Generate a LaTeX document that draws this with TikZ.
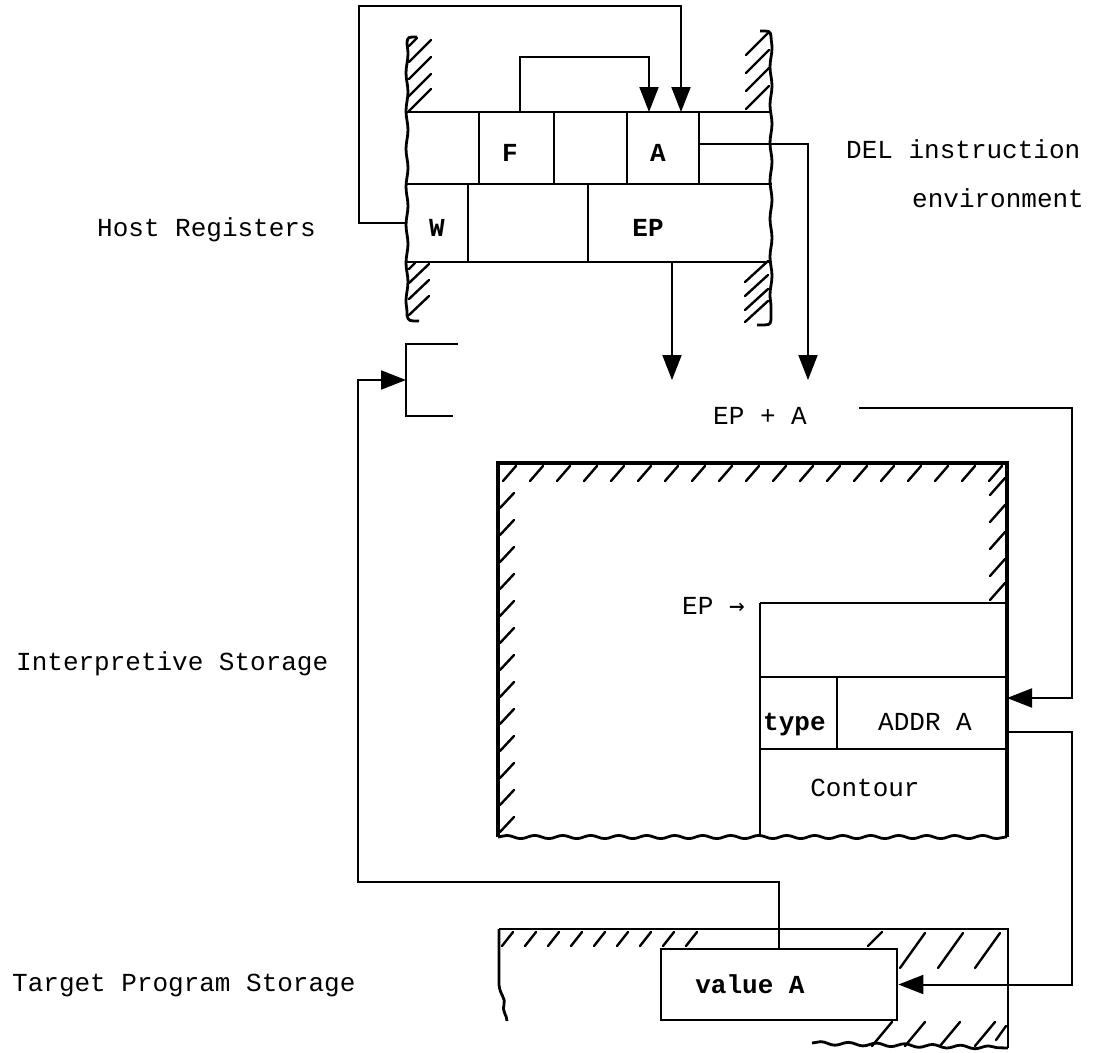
\documentclass[tikz,border=0pt]{standalone}
\usepackage{fontspec}
\setmainfont{Liberation Mono}
\newfontfamily\arrowfont{DejaVu Sans Mono}
\usetikzlibrary{arrows.meta,decorations.pathmorphing}
\begin{document}
\begin{tikzpicture}[x=1pt,y=-1pt,
  reg/.style={line width=2.8pt},
  bigline/.style={line width=3.4pt},
  conn/.style={line width=2pt},
  arrowhd/.style={-{Triangle[width=19pt,length=25pt]}},
  hatch/.style={line width=2.4pt,line cap=round},
  wavy/.style={decorate,decoration={snake,amplitude=1pt,segment length=38pt}},
  wavyb/.style={decorate,decoration={snake,amplitude=1.6pt,segment length=28pt}},
  cell/.style={draw=none,inner sep=0pt,outer sep=0pt},
  lbl/.style={inner sep=0pt,font=\fontsize{26}{30}\selectfont},
  blbl/.style={inner sep=0pt,font=\fontsize{26}{30}\selectfont\bfseries}]
\useasboundingbox (0,0) rectangle (1096,1053);

% ---------- host registers ----------
\node[cell,minimum width=72pt,minimum height=72pt] (r1a) at (443,148) {};
\node[cell,minimum width=75pt,minimum height=72pt] (Fc) at (516.5,148) {};
\node[cell,minimum width=73pt,minimum height=72pt] (r1c) at (590.5,148) {};
\node[cell,minimum width=72pt,minimum height=72pt] (Ac) at (663,148) {};
\node[cell,minimum width=73pt,minimum height=72pt] (r1e) at (735.5,148) {};
\node[cell,minimum width=61pt,minimum height=78pt] (Wc) at (437.5,223) {};
\node[cell,minimum width=120pt,minimum height=78pt] (r2b) at (528,223) {};
\node[cell,minimum width=184pt,minimum height=78pt] (EPc) at (680,223) {};

\draw[reg] (407,112) -- (772,112);
\draw[reg] (407,184) -- (772,184);
\draw[reg] (407,262) -- (772,262);
\foreach \x in {479,554,627,699} \draw[reg] (\x,112) -- (\x,184);
\foreach \x in {468,588} \draw[reg] (\x,184) -- (\x,262);

% walls
\draw[reg,wavy] (407,42) -- (407,316);
\draw[reg] (407,42) .. controls (408,37) .. (417,37);
\draw[reg] (407,316) .. controls (409,321) .. (419,321);
\draw[reg,wavy] (771,36) -- (771,320);
\draw[reg] (771,36) .. controls (770,31) .. (760,31);
\draw[reg] (771,320) .. controls (770,325) .. (757,325);
\foreach \y in {62,79,96,111} \draw[hatch] (409,\y) -- (431,\y-22);
\draw[hatch] (409,46) -- (417,38);
\foreach \y in {55,73,91,109} \draw[hatch] (746,\y) -- (769,\y-23);
\foreach \y in {283,299,315} \draw[hatch] (409,\y) -- (429,\y-19);
\draw[hatch] (409,269) -- (415,263);
\foreach \y in {282,296,310,322} \draw[hatch] (745,\y) -- (768,\y-21);

\node[blbl,anchor=base] (Ftxt) at (510,161) {F};
\node[blbl,anchor=base] (Atxt) at (658,161) {A};
\node[blbl,anchor=base] (Wtxt) at (437,236) {W};
\node[blbl,anchor=base] (EPtxt) at (648,236) {EP};

% register connectors
\coordinate (tipA) at (808,380);
\coordinate (tipEP) at (672,380);
\draw[conn,arrowhd] (Wc.west) -| (359,6) -| ([xshift=18pt]Ac.north);
\draw[conn,arrowhd] ([xshift=3.5pt]Fc.north) -- ++(0,-55) -| ([xshift=-14pt]Ac.north);
\draw[conn,arrowhd] ([yshift=4pt]Ac.east) -| (tipA);
\draw[conn,arrowhd] (EPc.south -| tipEP) -- (tipEP);

\node[lbl,anchor=base west] (host) at (97,236) {Host Registers};
\node[lbl,anchor=base west] (del1) at (846,158) {DEL instruction};
\node[lbl,anchor=base west] (del2) at (912,207) {environment};

% ---------- bracket ----------
\coordinate (brk) at (406,380);
\draw[reg] (458,344) -- (406,344) -- (406,416) -- (453,416);

\node[lbl,anchor=base west] (epa) at (713,424) {EP + A};
\coordinate (epaout) at (859,408);

% ---------- interpretive storage ----------
\draw[bigline] (498,837) -- (498,463) -- (1007,463) -- (1007,837);
\draw[reg,wavyb] (498,837) -- (1007,837);
\foreach \x in {503,530,...,995} \draw[hatch] (\x,481) -- (\x+13,466);
\foreach \y in {508,535,...,833} \draw[hatch] (500,\y) -- (514,\y-15);
\foreach \y in {495,522,549,576,600} \draw[hatch] (990,\y) -- (1005,\y-17);

\node[cell,minimum width=247pt,minimum height=74pt] (ctop) at (883.5,640) {};
\node[cell,minimum width=77pt,minimum height=72pt] (typec) at (798.5,713) {};
\node[cell,minimum width=170pt,minimum height=72pt] (addr) at (922,713) {};
\draw[reg] (760,603) -- (1007,603);
\draw[reg] (760,603) -- (760,837);
\draw[reg] (760,677) -- (1007,677);
\draw[reg] (760,749) -- (1007,749);
\draw[reg] (837,677) -- (837,749);

\node[lbl,anchor=base west] (eptxt) at (682,614) {EP {\arrowfont →}};
\node[blbl,anchor=base west] (typetxt) at (763,730) {type};
\node[lbl,anchor=base west] (addrtxt) at (878,730) {ADDR A};
\node[lbl,anchor=base] (conttxt) at (865,796) {Contour};

\node[lbl,anchor=base west] (interp) at (16,670) {Interpretive Storage};

% ---------- target program storage ----------
\draw[reg] (499,929) -- (1008,929) -- (1008,1048);
\draw[reg] (499,929) -- (499,985) .. controls (500,995) and (506,998) .. (504,1005)
  .. controls (502,1012) and (507,1015) .. (507,1021);
\draw[reg,wavyb] (812,1043) -- (1008,1048);
\foreach \x in {502,525,...,700} \draw[hatch] (\x,946) -- (\x+11,932);
\draw[hatch] (868,946) -- (882,932);
\foreach \x in {900,938,975} \draw[hatch] (\x,968) -- (\x+25,933);
\foreach \x in {872,905,940,975} \draw[hatch] (\x,1046) -- (\x+20,1022);
\draw[hatch] (996,1040) -- (1006,1026);

\node[draw,reg,minimum width=236pt,minimum height=71pt,inner sep=0pt] (valA) at (779,984.5) {};
\node[blbl,anchor=base] (valtxt) at (750,993) {value A};

\node[lbl,anchor=base west] (target) at (12,991) {Target Program Storage};

% ---------- storage connectors ----------
\draw[conn,arrowhd] (epaout) -- (1072,408) |- ([yshift=15pt]addr.east);
\draw[conn,arrowhd] ([yshift=-19pt]addr.east) -- (1072,732) |- (valA.east);
\draw[conn,arrowhd] (valA.north) |- (358,882) |- (brk);
\end{tikzpicture}
\end{document}
